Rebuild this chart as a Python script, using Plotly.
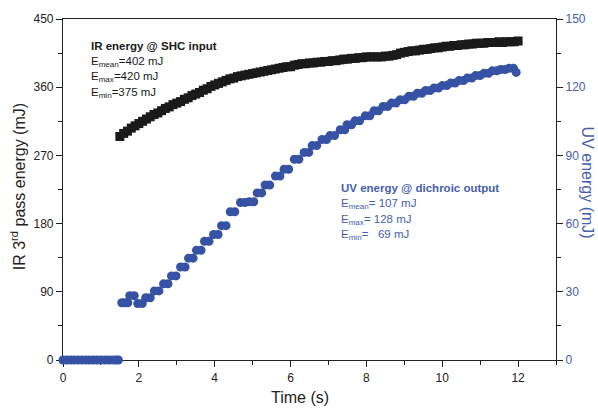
import plotly.graph_objects as go

# IR 3rd pass energy (left axis, mJ), one sample every 0.1 s from 1.5 s
t_ir = [1.5, 1.6, 1.7, 1.8, 1.9, 2.0, 2.1, 2.2, 2.3, 2.4, 2.5, 2.6, 2.7, 2.8, 2.9,
        3.0, 3.1, 3.2, 3.3, 3.4, 3.5, 3.6, 3.7, 3.8, 3.9, 4.0, 4.1, 4.2, 4.3, 4.4,
        4.5, 4.6, 4.7, 4.8, 4.9, 5.0, 5.1, 5.2, 5.3, 5.4, 5.5, 5.6, 5.7, 5.8, 5.9,
        6.0, 6.1, 6.2, 6.3, 6.4, 6.5, 6.6, 6.7, 6.8, 6.9, 7.0, 7.1, 7.2, 7.3, 7.4,
        7.5, 7.6, 7.7, 7.8, 7.9, 8.0, 8.1, 8.2, 8.3, 8.4, 8.5, 8.6, 8.7, 8.8, 8.9,
        9.0, 9.1, 9.2, 9.3, 9.4, 9.5, 9.6, 9.7, 9.8, 9.9, 10.0, 10.1, 10.2, 10.3,
        10.4, 10.5, 10.6, 10.7, 10.8, 10.9, 11.0, 11.1, 11.2, 11.3, 11.4, 11.5,
        11.6, 11.7, 11.8, 11.9, 12.0]
ir_mj = [295, 299, 302, 306, 309, 312, 315, 318, 321, 324, 326, 329, 332, 334, 337,
         339, 341, 344, 346, 349, 351, 353, 356, 358, 361, 363, 365, 367, 369, 371,
         372, 374, 375, 376, 377, 378, 379, 380, 381, 382, 383, 384, 385, 386, 387,
         387, 389, 390, 391, 391, 392, 392, 393, 393, 394, 394, 395, 395, 396, 397,
         397, 398, 398, 399, 399, 400, 400, 400, 400, 400, 401, 401, 402, 403, 405,
         406, 407, 408, 408, 409, 410, 410, 411, 412, 412, 413, 414, 414, 415,
         415, 416, 416, 417, 417, 418, 418, 418, 419, 419, 419, 420,
         419, 420, 420, 420, 421]

# UV energy (right axis, mJ), the meter holds each reading for about two samples
t_uv = [0.0, 0.1, 0.2, 0.3, 0.4, 0.5, 0.6, 0.7, 0.8, 0.9, 1.0, 1.1, 1.2, 1.3, 1.4, 1.46,
        1.55, 1.63, 1.71, 1.76, 1.88, 1.97, 2.09, 2.18, 2.30, 2.41, 2.53, 2.65, 2.77,
        2.86, 2.98, 3.10, 3.22, 3.31, 3.43, 3.52, 3.64, 3.73, 3.85, 3.97, 4.09,
        4.18, 4.30, 4.41, 4.53, 4.68, 4.80, 4.91, 5.03, 5.12, 5.24, 5.33, 5.45,
        5.60, 5.72, 5.83, 5.95, 6.10, 6.22, 6.36, 6.48, 6.57, 6.69, 6.83, 6.95,
        7.04, 7.16, 7.31, 7.43, 7.49, 7.61, 7.70, 7.82, 7.97, 8.09, 8.20, 8.32,
        8.44, 8.56, 8.66, 8.78, 8.89, 9.01, 9.12, 9.24, 9.34, 9.46, 9.56, 9.68,
        9.78, 9.90, 10.00, 10.12, 10.22, 10.34, 10.44, 10.56, 10.66, 10.78, 10.88,
        11.00, 11.10, 11.22, 11.32, 11.44, 11.54, 11.66, 11.76, 11.88, 11.95]
uv_mj = [0, 0, 0, 0, 0, 0, 0, 0, 0, 0, 0, 0, 0, 0, 0, 0,
         25.2, 25.2, 25.2, 28.3, 28.3, 24.8, 24.8, 27.4, 27.4, 30.4, 30.4, 33.5, 33.5,
         37.0, 37.0, 40.9, 40.9, 44.8, 44.8, 48.3, 48.3, 52.2, 52.2, 55.2, 55.2,
         59.1, 59.1, 65.2, 65.2, 69.3, 69.3, 69.6, 69.6, 73.5, 73.5, 77.0, 77.0,
         80.9, 80.9, 83.9, 83.9, 88.3, 88.3, 91.3, 91.3, 94.3, 94.3, 97.0, 97.0,
         98.7, 98.7, 101.3, 101.3, 103.5, 103.5, 105.2, 105.2, 107.4, 107.4, 109.6, 109.6,
         111.5, 111.5, 113.0, 113.0, 114.5, 114.5, 116.0, 116.0, 117.3, 117.3, 118.5, 118.5,
         119.6, 119.6, 120.7, 120.7, 121.8, 121.8, 122.9, 122.9, 124.0, 124.0, 125.1,
         125.1, 126.1, 126.1, 127.2, 127.2, 127.8, 127.8, 128.3, 128.3, 126.5]

ir_note = ['<b>IR energy @ SHC input</b>', 'E<sub>mean</sub>=402 mJ',
           'E<sub>max</sub>=420 mJ', 'E<sub>min</sub>=375 mJ']
uv_note = ['<b>UV energy @ dichroic output</b>', 'E<sub>mean</sub>= 107 mJ',
           'E<sub>max</sub>= 128 mJ', 'E<sub>min</sub>=   69 mJ']

BLUE = '#3652a5'
BLUE_TXT = '#4560b0'
FONT = 'Arial, Liberation Sans, sans-serif'

fig = go.Figure()
fig.add_trace(go.Scatter(x=t_ir, y=ir_mj, mode='markers', yaxis='y',
                         marker=dict(symbol='square', size=9, color='#1a1a1a'),
                         showlegend=False))
fig.add_trace(go.Scatter(x=t_uv, y=uv_mj, mode='markers', yaxis='y2', cliponaxis=False,
                         marker=dict(symbol='circle', size=9, color=BLUE),
                         showlegend=False))

axis_common = dict(showgrid=False, zeroline=False, showline=True, linecolor='#222',
                   linewidth=1.2, ticks='outside', ticklen=6, tickwidth=1.2,
                   tickcolor='#222', layer='below traces')

fig.update_layout(
    width=598, height=411,
    margin=dict(l=63, r=41, t=15, b=51),
    paper_bgcolor='white', plot_bgcolor='white',
    font=dict(family=FONT, size=12, color='#222'),
    xaxis=dict(range=[0, 13], dtick=2, tick0=0, mirror=True,
               minor=dict(dtick=1, ticklen=4, tickcolor='#222', ticks='outside'),
               tickfont=dict(size=12, color='#222'), **axis_common),
    yaxis=dict(range=[0, 450], dtick=90, tick0=0,
               minor=dict(dtick=45, ticklen=4, tickcolor='#222', ticks='outside'),
               tickfont=dict(size=12, color='#222'), **axis_common),
    yaxis2=dict(range=[0, 150], dtick=30, tick0=0, overlaying='y', side='right',
                minor=dict(dtick=15, ticklen=4, tickcolor='#222', ticks='outside'),
                tickfont=dict(size=12, color=BLUE_TXT), **axis_common),
)

# axis titles
fig.add_annotation(text='Time (s)', xref='paper', yref='paper', x=0.48, y=-0.11,
                   showarrow=False, font=dict(size=16, color='#222'),
                   xanchor='center', yanchor='middle')
fig.add_annotation(text='IR 3<sup>rd</sup> pass energy (mJ)', xref='paper', yref='paper',
                   x=-0.091, y=0.507, textangle=-90, showarrow=False,
                   font=dict(size=16, color='#222'), xanchor='center', yanchor='middle')
fig.add_annotation(text='UV energy (mJ)', xref='paper', yref='paper',
                   x=1.063, y=0.52, textangle=90, showarrow=False,
                   font=dict(size=16, color=BLUE_TXT), xanchor='center', yanchor='middle')

# in-plot notes
for i, line in enumerate(ir_note):
    fig.add_annotation(text=line, xref='paper', yref='paper', x=0.052,
                       y=(360 - 42 - 16 * i) / 345, showarrow=False,
                       font=dict(size=11.5, color='#1a1a1a'),
                       xanchor='left', yanchor='middle')
for i, line in enumerate(uv_note):
    fig.add_annotation(text=line, xref='paper', yref='paper', x=0.56,
                       y=(360 - 186 - 16 * i) / 345, showarrow=False,
                       font=dict(size=11.5, color=BLUE_TXT),
                       xanchor='left', yanchor='middle')

# page body has a default margin; drop it so the figure sits at the window corner
fig.write_html('out.html', config={'displayModeBar': False},
               post_script="document.body.style.margin='0';")
